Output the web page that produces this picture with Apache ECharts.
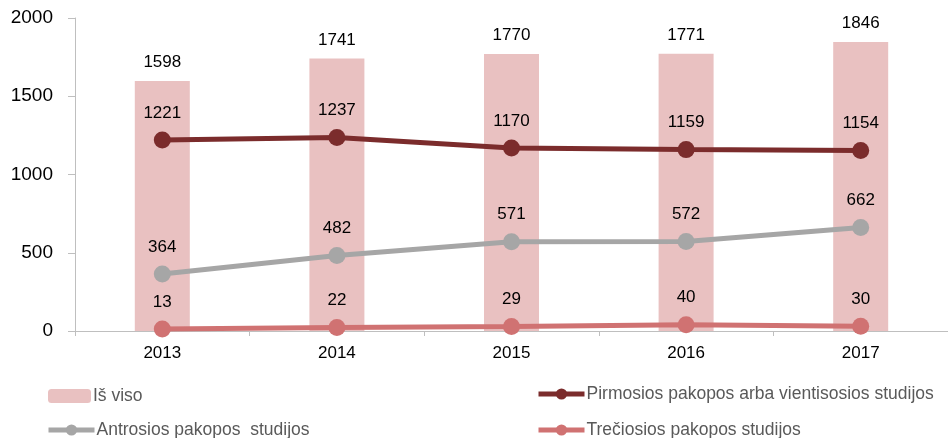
<!DOCTYPE html>
<html><head><meta charset="utf-8">
<script src="https://cdn.jsdelivr.net/npm/echarts@6/dist/echarts.min.js"></script>
<style>html,body{margin:0;padding:0;background:#fff}#c{width:948px;height:438px}</style>
</head><body><div id="c"></div>
<script>
const categories = ['2013','2014','2015','2016','2017'];
const total = [1598,1741,1770,1771,1846];
const first = [1221,1237,1170,1159,1154];
const second = [364,482,571,572,662];
const third = [13,22,29,40,30];
const yTicks = [0,500,1000,1500,2000];
const names = ['Iš viso','Pirmosios pakopos arba vientisosios studijos','Antrosios pakopos  studijos','Trečiosios pakopos studijos'];

const FONT = 'Liberation Sans';
const chart = echarts.init(document.getElementById('c'), null, {renderer:'canvas'});
const lbl = {show:true, position:'top', distance:10, color:'#000', fontSize:17, fontFamily:FONT};
function lineSeries(name, data, color){
  return {name, type:'line', data, symbol:'circle', symbolSize:17, lineStyle:{width:5,color}, itemStyle:{color}, label:lbl, z:3};
}
function leg(name, left, top, w){
  return {data:[name], left, top, itemWidth:w, itemHeight:14, itemGap:0, padding:0,
    lineStyle:{width:5}, symbolRotate:0,
    textStyle:{color:'#595959', fontSize:17.5, fontFamily:FONT, padding:[0,0,0,-3]}};
}
chart.setOption({
  animation:false,
  grid:{left:75, top:18, width:876, height:313},
  xAxis:{type:'category', data:categories, axisLine:{lineStyle:{color:'#BFBFBF'}},
    axisTick:{show:true, length:5, lineStyle:{color:'#BFBFBF'}},
    axisLabel:{color:'#000', fontSize:17, fontFamily:FONT, margin:14}},
  yAxis:{type:'value', min:yTicks[0], max:yTicks[yTicks.length-1], interval:500,
    axisLine:{show:true, lineStyle:{color:'#BFBFBF'}},
    axisTick:{show:true, length:7, lineStyle:{color:'#BFBFBF'}}, splitLine:{show:false},
    axisLabel:{color:'#000', fontSize:19, fontFamily:FONT, margin:22, formatter:v=>String(v)}},
  legend:[leg(names[0],48,387,43), leg(names[1],536,385,46), leg(names[2],46,421,46), leg(names[3],536,421,46)],
  series:[
    {name:names[0], type:'bar', data:total, barWidth:55, itemStyle:{color:'#E9C1C1'}, label:lbl, z:1},
    lineSeries(names[1], first, '#7B2C2C'),
    lineSeries(names[2], second, '#A6A6A6'),
    lineSeries(names[3], third, '#D07272')
  ]
});
</script></body></html>
